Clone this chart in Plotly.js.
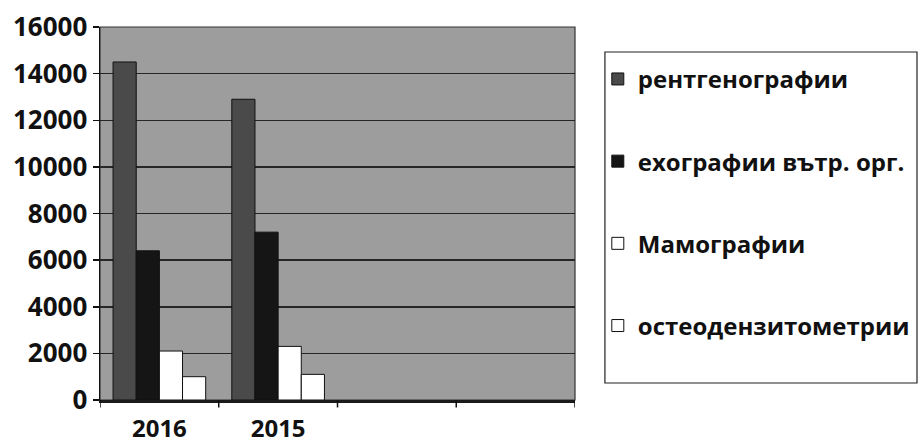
<!DOCTYPE html>
<html>
<head>
<meta charset="utf-8">
<script src="https://cdn.plot.ly/plotly-3.0.1.min.js"></script>
<style>html,body{margin:0;padding:0;background:#fff;}#chart{width:919px;height:445px;}</style>
</head>
<body>
<div id="chart"></div>
<script>
// Data
const categories = ["2016", "2015"];
const seriesNames = ["рентгенографии", "ехографии вътр. орг.", "Мамографии", "остеодензитометрии"];
const rentgen = [14500, 12900];
const echo = [6400, 7200];
const mammo = [2100, 2300];
const osteo = [1000, 1100];
const yTicks = [0, 2000, 4000, 6000, 8000, 10000, 12000, 14000, 16000];

const seriesValues = [rentgen, echo, mammo, osteo];
const fills = ["#4a4a4a", "#151515", "#ffffff", "#ffffff"];
const xIdx = categories.map((c, i) => i);

const traces = seriesValues.map((vals, k) => ({
  type: "bar",
  name: seriesNames[k],
  x: xIdx,
  y: vals,
  legendgroup: "g" + k,
  marker: { color: fills[k], line: { color: "#111", width: 1 } },
  hoverinfo: "skip"
}));

const font = { family: "'Open Sans', 'DejaVu Sans', sans-serif", color: "#111" };

const shapes = [];
[-0.5, 0.5, 1.5, 2.5, 3.5].forEach(b => {
  shapes.push({ type: "line", xref: "x", yref: "paper", x0: b, x1: b, y0: 0, y1: -0.02,
    line: { color: "#111", width: 1.5 } });
});
shapes.push({ type: "rect", xref: "paper", yref: "paper", x0: 1.063, x1: 1.72, y0: 0.0456, y1: 0.933,
  line: { color: "#222", width: 1.2 }, fillcolor: "rgba(0,0,0,0)" });
shapes.push({ type: "rect", xref: "paper", yref: "paper", x0: 0, x1: 1, y0: 0, y1: 1,
  line: { color: "#333", width: 1.2 }, fillcolor: "rgba(0,0,0,0)", layer: "below" });

const layout = {
  width: 919, height: 445,
  margin: { l: 100, r: 344, t: 27, b: 45, pad: 0, autoexpand: false },
  paper_bgcolor: "#ffffff",
  plot_bgcolor: "#9d9d9d",
  barmode: "group",
  bargap: 0.22,
  bargroupgap: 0,
  showlegend: true,
  legend: {
    x: 1.048, xanchor: "left", y: 0.92, yanchor: "top",
    traceorder: "grouped", tracegroupgap: 48,
    bgcolor: "rgba(0,0,0,0)", borderwidth: 0,
    font: Object.assign({}, font, { size: 24, weight: "bold" })
  },
  xaxis: {
    range: [-0.5, 3.5],
    tickvals: xIdx, ticktext: categories,
    ticks: "", showgrid: false, zeroline: false,
    showline: true, linecolor: "#1a1a1a", linewidth: 3, mirror: false,
    ticklabelstandoff: 5,
    tickfont: Object.assign({}, font, { size: 24, weight: "bold" }),
    fixedrange: true
  },
  yaxis: {
    range: [0, 16000],
    tickvals: yTicks, ticktext: yTicks.map(String),
    ticks: "outside", ticklen: 6, tickcolor: "#111", tickwidth: 1.5,
    showline: true, linecolor: "#111", linewidth: 1.5,
    showgrid: true, gridcolor: "#262626", gridwidth: 1.5,
    zeroline: false,
    tickfont: Object.assign({}, font, { size: 26, weight: "bold" }),
    fixedrange: true
  },
  shapes: shapes
};

Plotly.newPlot("chart", traces, layout, { displayModeBar: false, staticPlot: true });
</script>
</body>
</html>
